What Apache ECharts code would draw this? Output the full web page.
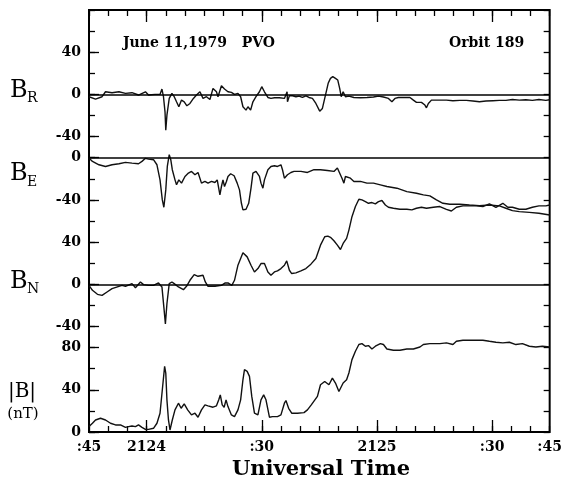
<!DOCTYPE html>
<html>
<head>
<meta charset="utf-8">
<script src="https://cdn.jsdelivr.net/npm/echarts@6/dist/echarts.min.js"></script>
<style>
  html, body { margin: 0; padding: 0; background: #fff; }
  #chart { width: 565px; height: 493px; }
</style>
</head>
<body>
<div id="chart"></div>
<script>
// time axis: seconds after 21:23:45 UT
var timeLabelPos = [0, 15, 45, 75, 105, 120];
var timeLabels = [':45', '2124', ':30', '2125', ':30', ':45'];
var majorTicks = [15, 45, 75, 105];

// tick labels of each panel (nT)
var brTicks = [-40, 0, 40];
var beTicks = [-40, 0];
var bnTicks = [-40, 0, 40];
var bTicks = [0, 40, 80];

// [seconds, nT]
var brData = [[0,-2.2],[1.7,-4.4],[3.4,-2.2],[4.3,2.5],[6.0,1.6],[7.8,2.5],[9.5,1.0],[11.2,1.6],[12.9,-0.6],[14.7,2.5],
  [15.5,-0.6],[17.2,0],[18.5,0],[19.0,5.1],[19.4,-2.2],[19.8,-16.5],[20.0,-33.9],[20.3,-19.7],[20.9,-3.8],[21.6,1.0],
  [22.2,-2.2],[22.8,-7.0],[23.4,-11.7],[24.1,-5.4],[24.8,-7.0],[25.5,-10.8],[26.3,-8.6],[27.2,-3.8],[28.0,-0.6],[28.9,2.5],
  [29.7,-3.8],[30.6,-2.2],[31.5,-4.8],[32.3,5.7],[33.2,2.5],[33.6,-2.2],[34.5,8.2],[35.3,5.1],[36.2,2.5],[37.1,1.9],
  [37.9,0],[38.8,1.0],[39.5,-2.2],[40.1,-11.7],[40.9,-14.9],[41.4,-11.7],[42.1,-14.9],[42.7,-7.0],[43.5,-2.2],[44.4,2.5],
  [45.0,7.3],[45.7,2.5],[46.6,-2.9],[47.4,-3.8],[48.3,-3.2],[49.6,-3.2],[50.9,-3.8],[51.6,2.5],[51.7,-7.0],[52.2,-1.3],
  [53.0,-1.3],[53.9,-2.2],[54.7,-1.6],[55.6,-2.9],[56.5,-1.3],[57.3,-2.9],[58.2,-3.8],[59.1,-8.6],[60.1,-15.9],[60.8,-13.3],
  [61.4,-3.8],[61.9,4.1],[62.3,10.5],[62.9,15.2],[63.5,16.8],[64.2,15.2],[64.8,13.6],[65.3,5.7],[65.7,-2.2],[66.2,2.5],
  [66.8,-2.2],[67.7,-1.6],[69.0,-2.9],[70.7,-3.2],[72.4,-2.9],[74.1,-2.5],[75.4,-1.6],[76.7,-2.5],[78.0,-3.8],[78.9,-7.0],
  [79.7,-3.8],[80.6,-2.9],[81.9,-2.9],[83.6,-2.9],[84.5,-5.4],[85.3,-7.6],[86.6,-7.6],[87.5,-10.1],[87.9,-12.7],[88.4,-8.6],
  [89.2,-5.4],[90.5,-5.4],[93.1,-5.4],[94.8,-6.0],[96.6,-5.7],[98.3,-5.7],[100.0,-6.3],[101.7,-7.0],[103.4,-6.3],[105.2,-6.0],
  [106.9,-5.7],[108.6,-5.7],[110.3,-4.8],[112.1,-5.4],[113.8,-5.1],[115.5,-5.7],[117.2,-4.8],[119.0,-5.7],[120,-5.1]];

var beData = [[0,-0.3],[0.9,-3.5],[2.6,-6.7],[4.3,-8.3],[6.0,-6.7],[7.8,-5.7],[9.5,-4.4],[11.2,-5.1],[12.9,-5.7],[13.8,-3.5],
  [14.7,-0.6],[15.5,-1.3],[16.8,-1.9],[17.7,-6.7],[18.5,-21.0],[19.1,-40.0],[19.5,-47.0],[20.0,-30.5],[20.4,-8.3],[20.9,2.9],
  [21.3,-1.9],[21.7,-11.4],[22.4,-21.0],[22.8,-25.7],[23.4,-21.0],[24.1,-24.1],[25.0,-17.8],[25.9,-14.6],[26.7,-13.0],[27.6,-16.2],
  [28.4,-14.0],[29.3,-24.1],[30.2,-22.5],[31.0,-24.1],[31.9,-22.5],[32.8,-23.5],[33.4,-21.0],[34.1,-35.2],[34.5,-27.3],[34.9,-21.0],
  [35.3,-27.3],[35.8,-22.5],[36.2,-17.8],[36.9,-15.2],[37.8,-17.1],[38.6,-24.1],[39.2,-30.5],[39.7,-43.2],[40.1,-49.5],[40.9,-48.9],
  [41.6,-43.2],[42.2,-28.9],[42.7,-14.6],[43.5,-13.0],[44.4,-17.8],[44.8,-24.1],[45.3,-28.9],[45.7,-21.0],[46.6,-11.4],[47.4,-8.3],
  [48.3,-7.6],[49.1,-8.3],[50.0,-6.7],[50.4,-11.4],[50.9,-19.4],[51.7,-16.2],[52.6,-14.0],[53.4,-13.0],[55.2,-13.0],[56.9,-14.0],
  [58.6,-11.4],[60.3,-11.4],[62.1,-12.1],[63.8,-13.0],[64.7,-9.8],[65.1,-9.8],[65.9,-19.4],[66.4,-24.1],[66.8,-17.8],[68.1,-19.4],
  [69.0,-22.5],[70.7,-22.5],[72.4,-24.1],[74.1,-24.1],[75.9,-25.7],[77.6,-27.3],[80.2,-28.9],[82.8,-32.1],[85.3,-33.7],[87.1,-35.2],
  [88.8,-36.2],[90.5,-40.0],[92.2,-43.2],[94.0,-44.1],[96.6,-44.1],[99.1,-44.8],[101.7,-45.4],[104.3,-44.8],[106.9,-45.7],[108.6,-47.9],
  [110.3,-50.2],[112.1,-51.1],[114.7,-51.8],[117.2,-52.7],[120,-54.3]];

var bnData = [[0,-1.0],[0.9,-5.7],[2.2,-9.5],[3.4,-10.5],[4.7,-7.3],[6.0,-4.1],[7.8,-1.9],[8.6,-1.0],[9.5,-1.9],[11.2,0.6],
  [12.1,-3.2],[13.4,2.2],[14.2,-0.3],[15.5,-1.0],[16.8,-1.0],[18.1,1.3],[19.0,-2.5],[19.5,-21.6],[19.9,-37.5],[20.3,-18.4],
  [20.9,0.6],[21.6,2.2],[22.2,0.6],[23.3,-2.5],[24.6,-5.1],[25.4,-1.9],[26.3,3.8],[27.4,9.2],[28.4,7.6],[29.7,8.6],
  [30.3,2.2],[31.0,-1.9],[32.8,-1.9],[34.5,-1.0],[35.5,1.3],[36.2,1.3],[37.2,-1.0],[37.9,3.8],[38.8,18.1],[40.1,29.8],
  [41.2,26.0],[42.2,18.1],[43.1,11.7],[44.0,14.9],[44.8,19.7],[45.7,19.7],[46.6,11.7],[47.4,8.6],[48.3,11.7],[49.1,12.7],
  [50.0,14.9],[50.9,18.1],[51.5,22.2],[52.2,13.3],[52.8,10.2],[53.9,10.8],[55.2,12.7],[56.5,14.9],[57.8,19.1],[59.1,24.4],
  [60.3,37.1],[61.4,45.1],[62.2,45.7],[62.9,44.5],[63.8,41.3],[64.7,37.1],[65.5,33.0],[66.2,38.7],[67.1,43.5],[67.7,51.4],
  [68.5,64.1],[69.4,73.7],[70.3,80.6],[71.1,80.0],[72.0,78.4],[72.8,76.8],[73.7,77.5],[74.6,76.2],[75.4,78.4],[76.3,79.4],
  [77.2,75.2],[78.0,73.0],[79.3,72.1],[81.0,71.1],[82.8,71.1],[84.1,70.5],[85.3,72.1],[86.6,73.0],[87.9,72.1],[89.7,73.0],
  [91.4,73.7],[93.1,71.1],[94.4,69.5],[95.7,73.0],[97.4,74.3],[99.1,74.3],[100.9,74.3],[102.6,73.7],[104.3,76.2],[106.0,73.0],
  [107.8,76.8],[109.1,73.0],[110.3,73.0],[112.1,71.1],[113.8,71.1],[115.5,73.0],[117.2,74.3],[119.0,74.3],[120,75.2]];

var bmagData = [[0,5.1],[0.9,8.3],[1.7,11.4],[3.0,13.0],[4.3,11.4],[5.6,8.3],[6.9,6.7],[8.2,6.7],[9.5,4.4],[10.3,5.1],
  [11.2,5.7],[12.1,5.1],[12.9,6.7],[13.8,4.4],[14.7,2.5],[15.5,2.5],[16.8,3.5],[17.7,8.3],[18.5,17.8],[19.1,40.0],
  [19.7,62.2],[20.0,55.9],[20.3,30.5],[20.7,11.4],[21.1,1.9],[21.7,11.4],[22.4,21.0],[23.3,27.3],[24.0,22.5],[24.8,26.7],
  [25.7,21.0],[26.7,16.2],[27.6,17.8],[28.4,14.0],[29.3,21.0],[30.2,25.7],[31.0,24.8],[32.3,23.5],[33.2,24.8],[33.8,30.5],
  [34.2,35.2],[34.7,25.7],[35.2,23.5],[35.7,30.5],[36.2,24.1],[37.1,16.2],[37.9,14.6],[38.8,21.0],[39.5,30.5],[40.1,49.5],
  [40.5,59.1],[41.2,57.5],[41.8,52.7],[42.4,33.7],[43.1,17.8],[44.0,16.2],[44.8,30.5],[45.5,35.2],[46.1,30.5],[47.0,14.0],
  [47.8,14.6],[49.1,14.6],[50.0,16.2],[50.9,27.3],[51.3,29.8],[52.0,22.5],[52.8,17.8],[54.3,17.8],[56.0,18.4],[56.9,21.0],
  [57.9,25.7],[59.5,33.7],[60.3,44.8],[61.4,47.9],[62.5,44.8],[63.4,51.1],[64.2,46.4],[65.1,38.4],[65.5,36.8],[66.2,46.4],
  [67.1,49.5],[67.7,55.9],[68.5,68.6],[69.4,76.5],[70.3,82.9],[71.1,83.8],[72.0,81.3],[72.8,81.9],[73.7,78.7],[74.6,81.3],
  [75.9,83.8],[76.7,82.9],[77.6,78.7],[79.3,77.5],[81.0,77.5],[82.8,78.7],[84.5,78.7],[86.2,80.6],[87.1,82.9],[88.8,83.8],
  [91.4,83.8],[93.1,84.5],[94.8,82.9],[95.7,86.0],[97.4,87.0],[100.0,87.0],[102.6,87.0],[104.3,86.0],[106.0,85.1],[107.8,84.5],
  [109.5,85.1],[111.2,82.9],[112.9,83.8],[114.7,81.3],[116.4,80.6],[118.1,81.3],[120,80.6]];

var serif = 'DejaVu Serif';
var lbl = { color: '#000', fontFamily: serif, fontWeight: 'bold', fontSize: 14 };

function xAx(pos, ticks, len, labels) {
    var a = {
        type: 'value', min: 0, max: 120, position: pos,
        axisLine: { show: false, onZero: false }, splitLine: { show: false },
        axisTick: { inside: true, length: len, lineStyle: { color: '#000', width: 1.3 } },
        axisLabel: { show: false }
    };
    if (ticks) a.axisTick.customValues = ticks; else a.interval = 5;
    if (labels) {
        a.axisLabel = Object.assign({ show: true, margin: 8, customValues: timeLabelPos,
            formatter: function (v) { return timeLabels[timeLabelPos.indexOf(v)]; } }, lbl);
    }
    return a;
}

// every panel axis spans 400 nT over the full frame height
function yAx(min, ticks) {
    return {
        type: 'value', min: min, max: min + 400, interval: 20, position: 'left',
        axisLine: { show: false, onZero: false }, splitLine: { show: false },
        axisTick: { inside: true, length: 10, customValues: ticks, lineStyle: { color: '#000', width: 1.3 } },
        axisLabel: Object.assign({ margin: 8, customValues: ticks }, lbl)
    };
}
function frameAx(pos) {
    return {
        type: 'value', min: 0, max: 400, interval: 20, position: pos,
        axisLine: { show: false, onZero: false }, splitLine: { show: false }, axisLabel: { show: false },
        axisTick: { inside: true, length: 6, lineStyle: { color: '#000', width: 1.3 } }
    };
}

function zeroLine() {
    return { silent: true, symbol: 'none', label: { show: false },
        lineStyle: { color: '#000', width: 1.5, type: 'solid' }, data: [{ yAxis: 0 }] };
}
function trace(name, data, yIdx, zero) {
    var s = { name: name, type: 'line', data: data, yAxisIndex: yIdx, xAxisIndex: 0,
        showSymbol: false, lineStyle: { color: '#111', width: 1.4 } };
    if (zero) s.markLine = zeroLine();
    return s;
}

function txt(x, y, t, size, weight, align) {
    return { type: 'text', x: x, y: y, style: { text: t, fill: '#000', align: align || 'left',
        verticalAlign: 'middle', font: (weight || 'normal') + ' ' + size + 'px "' + serif + '"' } };
}

var option = {
    animation: false,
    grid: { left: 89, top: 10, width: 464, height: 422, show: true, borderColor: '#000', borderWidth: 2 },
    xAxis: [ xAx('bottom', null, 6, true), xAx('bottom', majorTicks, 12), xAx('top', null, 6), xAx('top', majorTicks, 12) ],
    yAxis: [ yAx(-320, brTicks), yAx(-260, beTicks), yAx(-140, bnTicks), yAx(0, bTicks), frameAx('left'), frameAx('right') ],
    series: [
        trace('BR', brData, 0, true),
        trace('BE', beData, 1, true),
        trace('BN', bnData, 2, true),
        trace('|B|', bmagData, 3, false)
    ],
    graphic: [
        txt(123, 43, 'June 11,1979   PVO', 14, 'bold'),
        txt(449, 43, 'Orbit 189', 14, 'bold'),
        txt(10, 91, 'B', 24), txt(27, 98, 'R', 14),
        txt(10, 174, 'B', 24), txt(27, 182, 'E', 14),
        txt(10, 282, 'B', 24), txt(27, 289, 'N', 14),
        txt(22, 392, '|B|', 20, 'normal', 'center'),
        txt(23, 414, '(nT)', 15, 'normal', 'center'),
        txt(321, 470, 'Universal Time', 21, 'bold', 'center')
    ]
};

var myChart = echarts.init(document.getElementById('chart'));
myChart.setOption(option);
</script>
</body>
</html>
